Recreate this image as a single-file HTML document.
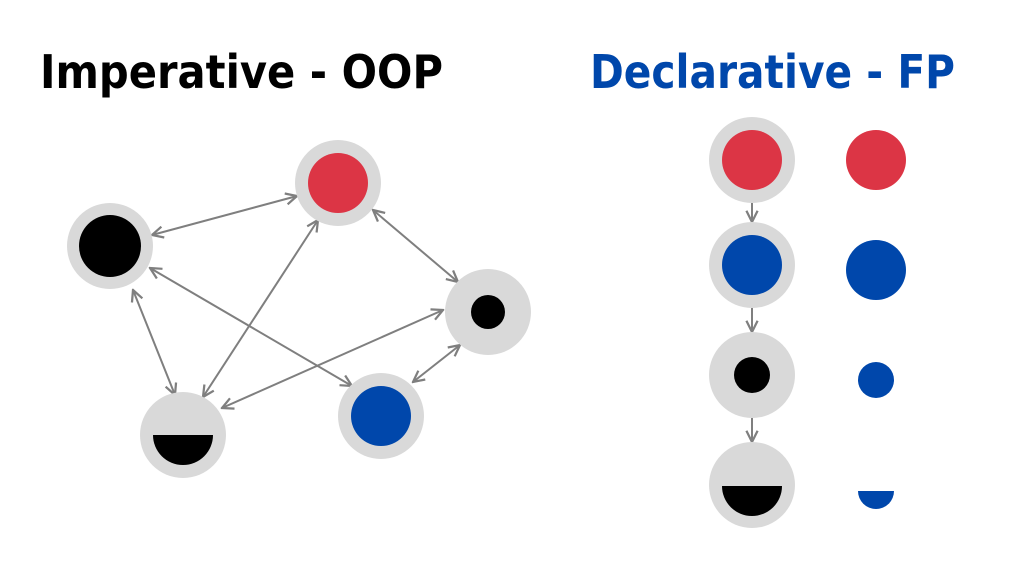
<!DOCTYPE html>
<html><head><meta charset="utf-8"><style>
html,body{margin:0;padding:0;background:#fff;}
body{width:1024px;height:576px;overflow:hidden;}
</style></head><body>
<svg width="1024" height="576" viewBox="0 0 1024 576" xmlns="http://www.w3.org/2000/svg">
<defs>
<marker id="a" viewBox="0 0 10 10" refX="9" refY="5" markerWidth="7" markerHeight="7" orient="auto-start-reverse">
<path d="M1,1 L9,5 L1,9" fill="none" stroke="#7f7f7f" stroke-width="1.6"/>
</marker>
</defs>
<text x="40" y="88" font-family="DejaVu Sans, sans-serif" font-weight="bold" font-size="46" fill="#000" textLength="403" lengthAdjust="spacingAndGlyphs">Imperative - OOP</text>
<text x="590" y="88" font-family="DejaVu Sans, sans-serif" font-weight="bold" font-size="46" fill="#0047ab" textLength="365" lengthAdjust="spacingAndGlyphs">Declarative - FP</text>
<g stroke="#7f7f7f" stroke-width="2" fill="none" marker-start="url(#a)" marker-end="url(#a)">
<line x1="152" y1="235" x2="297" y2="196"/>
<line x1="373" y1="210" x2="458" y2="282"/>
<line x1="150" y1="268" x2="352" y2="386"/>
<line x1="133" y1="290" x2="175" y2="395"/>
<line x1="203" y1="397" x2="318" y2="220"/>
<line x1="222" y1="408" x2="443" y2="310"/>
<line x1="413" y1="382" x2="460" y2="345"/>
</g>
<g stroke="#7f7f7f" stroke-width="2" fill="none" marker-end="url(#a)">
<line x1="752" y1="203" x2="752" y2="222"/>
<line x1="752" y1="308" x2="752" y2="332"/>
<line x1="752" y1="418" x2="752" y2="442"/>
</g>
<g fill="#d9d9d9">
<circle cx="338" cy="183" r="43"/><circle cx="110" cy="246" r="43"/>
<circle cx="488" cy="312" r="43"/><circle cx="381" cy="416" r="43"/>
<circle cx="183" cy="435" r="43"/>
<circle cx="752" cy="160" r="43"/><circle cx="752" cy="265" r="43"/>
<circle cx="752" cy="375" r="43"/><circle cx="752" cy="485" r="43"/>
</g>
<circle cx="338" cy="183" r="30" fill="#dc3545"/>
<circle cx="110" cy="246" r="31" fill="#000"/>
<circle cx="488" cy="312" r="17" fill="#000"/>
<circle cx="381" cy="416" r="30" fill="#0047ab"/>
<path d="M153,435 A30,30 0 0 0 213,435 Z" fill="#000"/>
<circle cx="752" cy="160" r="30" fill="#dc3545"/>
<circle cx="752" cy="265" r="30" fill="#0047ab"/>
<circle cx="752" cy="375" r="18" fill="#000"/>
<path d="M722,486 A30,30 0 0 0 782,486 Z" fill="#000"/>
<circle cx="876" cy="160" r="30" fill="#dc3545"/>
<circle cx="876" cy="270" r="30" fill="#0047ab"/>
<circle cx="876" cy="380" r="18" fill="#0047ab"/>
<path d="M858,491 A18,18 0 0 0 894,491 Z" fill="#0047ab"/>
</svg>
</body></html>
